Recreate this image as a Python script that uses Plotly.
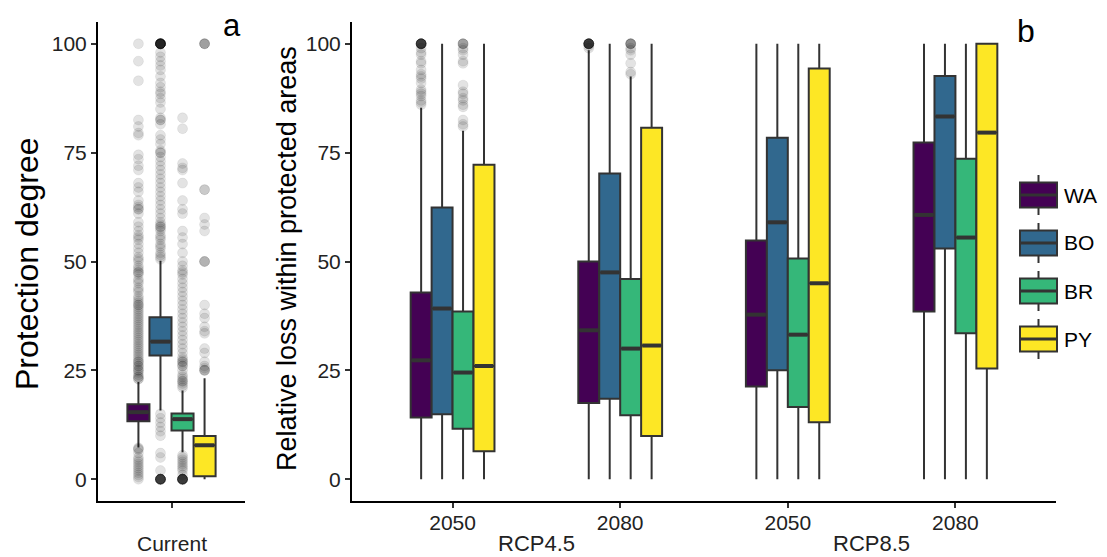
import plotly.graph_objects as go

# ---------------- data ----------------
groups = ["WA", "BO", "BR", "PY"]
colors = ["#440154", "#31688E", "#35B779", "#FDE725"]
periods = ["2050", "2080", "2050", "2080"]
scenarios = ["RCP4.5", "RCP8.5"]

# Panel a: current protection degree (box statistics per group)
cur_q1 = [13.3, 28.4, 11.2, 0.7]
cur_med = [15.4, 31.6, 13.8, 7.8]
cur_q3 = [17.2, 37.2, 15.1, 9.9]
cur_lo = [7.3, 15.8, 6.2, 0.0]
cur_hi = [22.3, 50.2, 20.4, 23.2]

cur_out_WA = [100, 96, 91.5, 82.5, 81, 79.5, 79, 74.5, 73.5, 72, 71, 68, 67, 66, 64, 63, 62.5, 62, 62, 61,
              59, 58, 57, 56, 55.5, 55, 54, 53, 52, 51, 50.5, 50, 49, 48.5, 48, 47.5, 47.5, 47, 46, 45.5,
              45, 44, 43.5, 43, 42, 41.5, 41, 40.5, 40, 40, 39.5, 39, 38.5, 38, 37.5, 37, 36.5, 36, 35.5,
              35, 34.5, 34, 33.5, 33, 32.5, 32, 31.5, 31, 30.5, 30, 29.5, 29, 28.5, 28, 27.5, 27, 27, 26.5,
              26, 26, 25.5, 25, 25, 24.5, 24, 23.5, 23.5, 23, 23,
              7.2, 7, 6.8, 6, 5, 4.5, 4, 3.5, 3, 2.5, 2, 1.5, 1, 0.5, 0]
cur_out_BO = [100] * 16 + [98, 97, 96, 95, 94, 92.5, 91, 90, 89, 88.5, 87.5, 86.5, 85, 83, 82.5, 82.5, 81.5,
              79, 78, 77, 75.5, 75, 75, 74, 73, 72, 71, 70, 69, 68, 67, 66, 65, 64, 63, 62, 61, 60, 59,
              58.5, 58, 58, 57.5, 57, 56, 55.5, 55, 54, 53.5, 53, 52, 51.5, 51, 50.5,
              15, 14, 13, 12, 11, 10, 6, 5, 2] + [0] * 12
cur_out_BR = [83, 80.5, 72.5, 71.5, 71, 68, 64, 62, 61, 57, 55.5, 54, 52, 50, 49, 48, 47.5, 47, 46, 45, 44,
              43, 42, 41, 40, 39, 38, 37, 36, 35, 34, 33, 32, 31, 30, 29, 28, 27.5, 27, 27, 26.5, 26, 26,
              25, 24, 23.5, 23, 22.5, 22.5, 22, 21.5, 21,
              5.5, 5, 4.5, 4, 3.5, 3, 2.5, 2, 1] + [0] * 12
cur_out_PY = [100, 100, 100, 100, 66.5, 66.5, 60, 58.5, 57, 50, 50, 50, 40, 38, 37, 35, 34, 33.5, 30, 29,
              27, 26, 25.5, 25, 25, 25]
cur_out = [cur_out_WA, cur_out_BO, cur_out_BR, cur_out_PY]

# Panel b: relative loss within protected areas (per group, per period/scenario)
fut_q1 = {"WA": [14.2, 17.5, 21.3, 38.5], "BO": [14.9, 18.5, 25.0, 53.0],
          "BR": [11.6, 14.7, 16.6, 33.5], "PY": [6.4, 9.9, 13.1, 25.4]}
fut_med = {"WA": [27.3, 34.2, 37.8, 60.7], "BO": [39.2, 47.5, 59.0, 83.3],
           "BR": [24.5, 30.0, 33.2, 55.5], "PY": [26.0, 30.7, 45.0, 79.6]}
fut_q3 = {"WA": [42.9, 50.0, 54.8, 77.3], "BO": [62.4, 70.2, 78.4, 92.6],
          "BR": [38.5, 46.0, 50.7, 73.6], "PY": [72.2, 80.7, 94.3, 100.0]}
fut_lo = {"WA": [0, 0, 0, 0], "BO": [0, 0, 0, 0], "BR": [0, 0, 0, 0], "PY": [0, 0, 0, 0]}
fut_hi = {"WA": [85.3, 98.5, 100, 100], "BO": [100, 100, 100, 100],
          "BR": [80.0, 92.5, 100, 100], "PY": [100, 100, 100, 100]}
fut_out = {
    "WA": [[100] * 12 + [99, 98, 97.5, 96, 95.5, 94, 93, 92.5, 92, 91, 89.5, 89, 88.5, 88, 87, 86.5, 86],
           [100] * 12 + [99.5, 99], [], []],
    "BO": [[], [], [], []],
    "BR": [[100, 100, 100, 100, 99, 98.5, 97.5, 96, 95.5, 90.5, 89, 88.5, 87.5, 87, 86, 85.5, 82.5, 81.5, 81],
           [100, 100, 100, 100, 100, 99, 98.5, 97.5, 95.5, 93.5, 93], [], []],
    "PY": [[], [], [], []],
}

# ---------------- figure ----------------
OFF = 8  # page body margin
W, H = 1107 - OFF, 557 - OFF
FONT = "Liberation Sans, Arial, sans-serif"
LINE = "#333333"


def px(x):
    return (x - OFF) / W


def py(y):
    return 1 - (y - OFF) / H


fig = go.Figure()

# Panel a
wa = 0.18
for i, g in enumerate(groups):
    pos = 1 + (i - 1.5) * wa
    fig.add_trace(go.Scatter(
        x=[pos] * len(cur_out[i]), y=cur_out[i], mode="markers", xaxis="x", yaxis="y",
        marker=dict(size=10, color="rgba(0,0,0,0.11)", line=dict(width=1, color="rgba(0,0,0,0.06)")),
        showlegend=False, hoverinfo="y"))
    fig.add_trace(go.Box(
        x=[pos], q1=[cur_q1[i]], median=[cur_med[i]], q3=[cur_q3[i]],
        lowerfence=[cur_lo[i]], upperfence=[cur_hi[i]], width=wa, whiskerwidth=0,
        fillcolor=colors[i], line=dict(color=LINE, width=2), boxpoints=False,
        xaxis="x", yaxis="y", name=g, showlegend=False))
    fig.add_trace(go.Scatter(
        x=[pos - wa / 2 + 0.01, pos + wa / 2 - 0.01], y=[cur_med[i]] * 2, mode="lines",
        line=dict(color=LINE, width=4), xaxis="x", yaxis="y", showlegend=False, hoverinfo="skip"))

# Panel b
wb = 0.125
for i, g in enumerate(groups):
    xs = [k + (i - 1.5) * wb for k in range(len(periods))]
    ox, oy = [], []
    for k, vals in enumerate(fut_out[g]):
        ox += [xs[k]] * len(vals)
        oy += vals
    if oy:
        fig.add_trace(go.Scatter(
            x=ox, y=oy, mode="markers", xaxis="x2", yaxis="y2",
            marker=dict(size=10, color="rgba(0,0,0,0.11)", line=dict(width=1, color="rgba(0,0,0,0.06)")),
            showlegend=False, hoverinfo="y"))
    fig.add_trace(go.Box(
        x=xs, q1=fut_q1[g], median=fut_med[g], q3=fut_q3[g],
        lowerfence=fut_lo[g], upperfence=fut_hi[g], width=wb, whiskerwidth=0,
        fillcolor=colors[i], line=dict(color=LINE, width=2), boxpoints=False,
        xaxis="x2", yaxis="y2", name=g, showlegend=False))
    mx, my = [], []
    for k in range(len(periods)):
        mx += [xs[k] - wb / 2 + 0.007, xs[k] + wb / 2 - 0.007, None]
        my += [fut_med[g][k], fut_med[g][k], None]
    fig.add_trace(go.Scatter(
        x=mx, y=my, mode="lines", line=dict(color=LINE, width=4),
        xaxis="x2", yaxis="y2", showlegend=False, hoverinfo="skip"))

ydom = [py(501), py(22)]
axis_common = dict(showline=True, linecolor="black", linewidth=2, ticks="outside", ticklen=5,
                   tickwidth=1.5, tickcolor=LINE, showgrid=False, zeroline=False,
                   tickfont=dict(family=FONT, size=21, color="#222222"))

fig.update_layout(
    width=W, height=H, margin=dict(l=0, r=0, t=0, b=0),
    paper_bgcolor="white", plot_bgcolor="white", showlegend=False,
    font=dict(family=FONT, color="black"),
    xaxis=dict(domain=[px(98), px(245)], range=[0.4, 1.6], tickvals=[1], ticktext=[""],
               anchor="y", **axis_common),
    yaxis=dict(domain=ydom, range=[-5, 105], tickvals=[0, 25, 50, 75, 100], anchor="x", **axis_common),
    xaxis2=dict(domain=[px(352), px(1056)], range=[-0.6, 3.6], tickvals=list(range(len(periods))),
                ticktext=periods, anchor="y2", ticklabelstandoff=-3, **axis_common),
    yaxis2=dict(domain=ydom, range=[-5, 105], tickvals=[0, 25, 50, 75, 100], anchor="x2", **axis_common),
)

txt = dict(showarrow=False, xanchor="center", yanchor="middle")
ann = []
ann.append(dict(text="Protection degree", x=px(27), y=py(264), textangle=-90, xref="paper", yref="paper",
                font=dict(size=32, family=FONT, color="black"), **txt))
ann.append(dict(text="Relative loss within protected areas", x=px(287), y=py(259), textangle=-90,
                xref="paper", yref="paper", font=dict(size=27, family=FONT, color="black"), **txt))
ann.append(dict(text="a", x=px(232), y=py(25), xref="paper", yref="paper",
                font=dict(size=31, family=FONT, color="black"), **txt))
ann.append(dict(text="b", x=px(1026), y=py(31), xref="paper", yref="paper",
                font=dict(size=32, family=FONT, color="black"), **txt))
ann.append(dict(text="Current", x=1, y=py(543), xref="x", yref="paper",
                font=dict(size=21, family=FONT, color="#222222"), **txt))
for j, sc in enumerate(scenarios):
    ann.append(dict(text=sc, x=2 * j + 0.5, y=py(543), xref="x2", yref="paper",
                    font=dict(size=22, family=FONT, color="#222222"), **txt))

# custom legend (ggplot-style box keys)
shapes = []
for i, g in enumerate(groups):
    cy = 195 + 48 * i
    x0, x1 = 1020, 1057
    xc = (x0 + x1) / 2
    shapes.append(dict(type="line", xref="paper", yref="paper", x0=px(xc), x1=px(xc),
                       y0=py(cy - 20), y1=py(cy + 20), line=dict(color=LINE, width=2)))
    shapes.append(dict(type="rect", xref="paper", yref="paper", x0=px(x0), x1=px(x1),
                       y0=py(cy - 12.5), y1=py(cy + 12.5), fillcolor=colors[i],
                       line=dict(color=LINE, width=2)))
    shapes.append(dict(type="line", xref="paper", yref="paper", x0=px(x0), x1=px(x1),
                       y0=py(cy), y1=py(cy), line=dict(color=LINE, width=3)))
    ann.append(dict(text=g, x=px(1062), y=py(cy), xanchor="left", yanchor="middle", showarrow=False,
                    xref="paper", yref="paper", font=dict(size=21, family=FONT, color="black")))

fig.update_layout(annotations=ann, shapes=shapes)
fig.write_html("out.html")
